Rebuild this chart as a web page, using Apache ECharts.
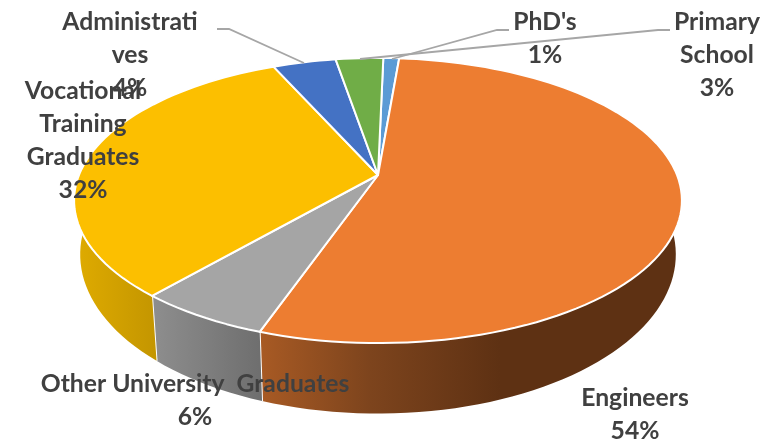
<!DOCTYPE html>
<html>
<head>
<meta charset="utf-8">
<style>
html, body { margin: 0; padding: 0; background: #fff; }
#chart { width: 777px; height: 441px; }
</style>
<script src="https://cdn.jsdelivr.net/npm/echarts@6/dist/echarts.min.js"></script>
</head>
<body>
<div id="chart"></div>
<script>
// data
var categories = ["PhD's", 'Engineers', 'Other University  Graduates', 'Vocational Training Graduates', 'Administratives', 'Primary School'];
var shares = [1, 54, 6, 32, 4, 3];
var labelTexts = ["PhD's\n1%", 'Engineers\n54%', 'Other University  Graduates\n6%', 'Vocational\nTraining\nGraduates\n32%', 'Administrati\nves\n4%', 'Primary\nSchool\n3%'];

// styles
var topColors = ['#5b9bd5', '#ed7d31', '#a5a5a5', '#fcbf00', '#4472c4', '#70ad47'];
var sideStops = [
    null,
    [[260, '#a85a24'], [370, '#7d441d'], [500, '#5e3113'], [690, '#5e3113']],
    [[152, '#8e8e8e'], [262, '#6e6e6e']],
    [[75, '#dfab00'], [155, '#c49600']],
    null,
    null
];
var labelPos = [[545, 6], [635, 382], [195, 368], [83, 75], [130, 6], [717, 6]];
var leaders = [
    [[509, 30], [497, 30], [392, 59]],
    null,
    null,
    null,
    [[217, 29], [229, 29], [304, 63]],
    [[670, 30], [658, 30], [360, 59]]
];

// the pie is a circle seen in perspective, the base has its own projection
var cx = 378, persp = 0.179;
var topPlane = { cy: 175, rx: 299, ry: 138 };
var basePlane = { cy: 226, rx: 293, ry: 154 };
var startDeg = 1.2;

function project(deg, plane) {
    var t = deg * Math.PI / 180;
    var w = 1 + persp * Math.cos(t);
    return [cx + plane.rx * Math.sin(t) / w, plane.cy - plane.ry * Math.cos(t) / w];
}

function arc(from, to, plane) {
    var pts = [];
    var n = Math.max(2, Math.ceil(Math.abs(to - from) / 2));
    for (var i = 0; i <= n; i++) {
        pts.push(project(from + (to - from) * i / n, plane));
    }
    return pts;
}

var total = shares.reduce(function (a, b) { return a + b; }, 0);
var angles = [];
var acc = startDeg;
shares.forEach(function (v) {
    angles.push([acc, acc + v / total * 360]);
    acc += v / total * 360;
});

function sideItem(params, api) {
    var i = params.dataIndex;
    if (!sideStops[i]) return null;
    var a = angles[i];
    var x0 = sideStops[i][0][0], x1 = sideStops[i][sideStops[i].length - 1][0];
    var stops = sideStops[i].map(function (s) {
        return { offset: (s[0] - x0) / (x1 - x0), color: s[1] };
    });
    var pts = arc(a[0], a[1], topPlane).concat(arc(a[1], a[0], basePlane));
    return {
        type: 'group',
        children: [{
            type: 'polygon',
            shape: { points: pts },
            style: { fill: new echarts.graphic.LinearGradient(x0, 0, x1, 0, stops, true) }
        }, {
            type: 'polyline',
            shape: { points: [project(a[1], topPlane), project(a[1], basePlane)] },
            style: { fill: null, stroke: '#fff', lineWidth: 2 }
        }]
    };
}

function topItem(params, api) {
    var a = angles[params.dataIndex];
    return {
        type: 'polygon',
        shape: { points: [[cx, topPlane.cy]].concat(arc(a[0], a[1], topPlane)) },
        style: { fill: topColors[params.dataIndex], stroke: '#fff', lineWidth: 2, lineJoin: 'round' }
    };
}

function labelItem(params, api) {
    var i = params.dataIndex;
    var children = [];
    if (leaders[i]) {
        children.push({
            type: 'polyline',
            shape: { points: leaders[i] },
            style: { fill: null, stroke: '#a6a6a6', lineWidth: 1.8 }
        });
    }
    children.push({
        type: 'text',
        style: {
            x: labelPos[i][0],
            y: labelPos[i][1],
            text: labelTexts[i],
            align: 'center',
            verticalAlign: 'top',
            fill: '#404040',
            font: 'bold 24.7px Lato, "Open Sans", sans-serif',
            lineHeight: 33
        }
    });
    return { type: 'group', children: children };
}

var chart = echarts.init(document.getElementById('chart'));
var seriesData = shares.map(function (v, i) { return { name: categories[i], value: v }; });
var option = {
    animation: false,
    backgroundColor: '#fff',
    series: [
        { type: 'custom', coordinateSystem: 'none', silent: true, z: 1, renderItem: sideItem, data: seriesData },
        { type: 'custom', coordinateSystem: 'none', silent: true, z: 2, renderItem: topItem, data: seriesData },
        { type: 'custom', coordinateSystem: 'none', silent: true, z: 3, renderItem: labelItem, data: seriesData }
    ]
};
chart.setOption(option);
</script>
</body>
</html>
